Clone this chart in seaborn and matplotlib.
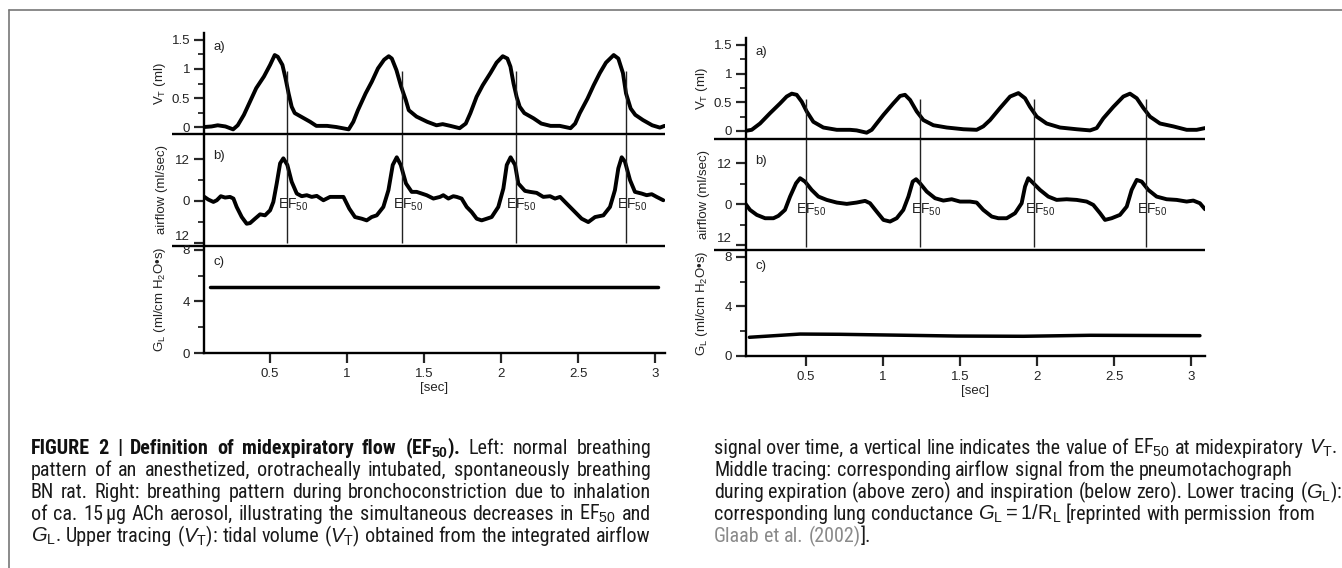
import os
import matplotlib
matplotlib.use("Agg")
import matplotlib.pyplot as plt
import seaborn as sns
from matplotlib.ticker import FixedLocator, FuncFormatter
from matplotlib.lines import Line2D
from matplotlib import font_manager

# ---------------- data ----------------
# left panel: normal breathing
left_vt_t = [0.07, 0.12, 0.16, 0.21, 0.26, 0.29, 0.33, 0.37, 0.41, 0.46, 0.50, 0.53, 0.55, 0.58, 0.60, 0.62,
             0.64, 0.66, 0.72, 0.76, 0.80, 0.87, 0.93, 1.01,
             1.04, 1.07, 1.12, 1.16, 1.20, 1.24, 1.27, 1.29, 1.32, 1.35, 1.38, 1.40, 1.45, 1.52, 1.58, 1.62,
             1.67, 1.73,
             1.77, 1.80, 1.84, 1.88, 1.93, 1.97, 2.01, 2.04, 2.06, 2.08, 2.10, 2.12, 2.15, 2.21, 2.26, 2.32,
             2.38, 2.45,
             2.48, 2.51, 2.56, 2.60, 2.64, 2.68, 2.73, 2.76, 2.79, 2.81, 2.84, 2.87, 2.92, 2.98, 3.03, 3.06]
left_vt = [0.00, 0.01, 0.03, 0.01, -0.04, 0.03, 0.21, 0.44, 0.67, 0.87, 1.07, 1.24, 1.21, 1.07, 0.84, 0.58,
           0.35, 0.24, 0.15, 0.09, 0.02, 0.02, 0.00, -0.04,
           0.09, 0.29, 0.58, 0.78, 1.01, 1.16, 1.22, 1.18, 0.98, 0.70, 0.47, 0.29, 0.18, 0.09, 0.03, 0.05,
           0.02, -0.02,
           0.06, 0.24, 0.52, 0.72, 0.93, 1.11, 1.22, 1.18, 1.04, 0.75, 0.52, 0.35, 0.24, 0.15, 0.06, 0.02,
           0.02, -0.02,
           0.06, 0.24, 0.49, 0.72, 0.93, 1.11, 1.24, 1.18, 0.93, 0.58, 0.32, 0.21, 0.12, 0.03, -0.01, 0.02]

left_flow_t = [0.067, 0.099, 0.132, 0.154, 0.180, 0.208, 0.240, 0.262, 0.283, 0.316, 0.348, 0.370, 0.402,
               0.435, 0.467, 0.500, 0.521, 0.543, 0.565, 0.586, 0.612, 0.640, 0.673, 0.705, 0.738, 0.770,
               0.803, 0.846, 0.889, 0.932, 0.976, 1.014, 1.051, 1.095, 1.127, 1.159, 1.192, 1.235, 1.268,
               1.296, 1.322, 1.348, 1.382, 1.419, 1.451, 1.484, 1.516, 1.560, 1.603, 1.624, 1.657, 1.689,
               1.711, 1.743, 1.776, 1.808, 1.841, 1.873, 1.906, 1.938, 1.981, 2.014, 2.036, 2.061, 2.090,
               2.111, 2.154, 2.187, 2.230, 2.273, 2.317, 2.349, 2.382, 2.414, 2.468, 2.522, 2.565, 2.609,
               2.663, 2.706, 2.738, 2.760, 2.782, 2.803, 2.836, 2.868, 2.911, 2.944, 2.977, 3.009, 3.052]
left_flow = [1.36, 0.39, -0.29, 0.19, 1.36, 0.97, 1.16, 0.68, -1.74, -4.65, -6.58, -6.39, -5.13,
             -3.87, -4.16, -2.71, -0.29, 5.03, 10.84, 12.29, 10.36, 5.52, 2.13, 1.36, 1.65, 1.16,
             1.45, 0.19, 1.16, 1.16, 1.16, -2.23, -4.65, -5.13, -5.61, -4.65, -4.16, -1.74, 3.10,
             10.36, 12.58, 10.36, 5.03, 2.61, 2.61, 2.13, 1.65, 0.68, 1.16, 1.65, 0.68, 1.36,
             1.16, 0.68, -1.74, -3.19, -5.13, -5.61, -5.13, -4.65, -1.74, 3.58, 10.36, 12.58, 10.36,
             5.03, 2.90, 2.61, 2.32, 1.16, 1.36, 0.68, 1.16, -0.29, -2.71, -5.13, -6.10, -4.65,
             -4.16, -1.74, 3.10, 9.39, 12.58, 11.33, 6.00, 2.61, 2.13, 1.65, 1.94, 1.16, 0.19]

left_gl_t = [0.11, 3.02]
left_gl = [5.15, 5.15]

left_ef_t = [0.612, 1.358, 2.094, 2.810]

# right panel: bronchoconstriction
right_vt_t = [0.104, 0.147, 0.201, 0.266, 0.331, 0.374, 0.407, 0.439, 0.472, 0.504, 0.547, 0.612, 0.699,
              0.785, 0.828, 0.893, 0.926, 0.958, 1.002, 1.066, 1.110, 1.142, 1.175, 1.218, 1.261, 1.326,
              1.413, 1.521, 1.607, 1.650, 1.694, 1.759, 1.824, 1.878, 1.921, 1.953, 1.997, 2.061, 2.148,
              2.256, 2.343, 2.386, 2.429, 2.494, 2.559, 2.602, 2.646, 2.689, 2.732, 2.797, 2.883, 2.970,
              3.035, 3.089]
right_vt = [0.00, 0.02, 0.13, 0.31, 0.48, 0.60, 0.65, 0.63, 0.51, 0.34, 0.16, 0.06, 0.02,
            0.02, 0.01, -0.03, 0.02, 0.13, 0.28, 0.48, 0.61, 0.63, 0.54, 0.34, 0.19, 0.10,
            0.06, 0.03, 0.02, 0.08, 0.19, 0.40, 0.60, 0.66, 0.57, 0.42, 0.25, 0.13, 0.06,
            0.03, 0.01, 0.05, 0.22, 0.42, 0.60, 0.65, 0.57, 0.40, 0.25, 0.13, 0.08, 0.02,
            0.02, 0.05]

right_flow_t = [0.104, 0.136, 0.180, 0.234, 0.288, 0.320, 0.363, 0.396, 0.435, 0.461, 0.493, 0.536, 0.580,
                0.634, 0.699, 0.764, 0.828, 0.883, 0.915, 0.958, 1.002, 1.045, 1.088, 1.131, 1.164, 1.192,
                1.214, 1.239, 1.283, 1.337, 1.391, 1.445, 1.499, 1.564, 1.607, 1.650, 1.705, 1.748, 1.802,
                1.856, 1.899, 1.921, 1.942, 1.975, 2.018, 2.072, 2.126, 2.191, 2.256, 2.321, 2.364, 2.408,
                2.440, 2.483, 2.537, 2.581, 2.613, 2.646, 2.678, 2.721, 2.775, 2.840, 2.905, 2.970, 3.013,
                3.056, 3.089]
right_flow = [0.29, -1.66, -3.12, -4.10, -4.10, -3.41, -1.66, 2.24, 6.15, 7.61, 6.63, 4.20, 2.24,
              1.27, 0.49, 0.10, 0.49, 0.98, 0.29, -2.15, -4.59, -5.07, -4.10, -1.66, 2.24, 6.63,
              7.32, 6.15, 3.71, 1.76, 1.07, 1.46, 0.78, 0.78, 0.49, -1.66, -3.61, -4.10, -4.10,
              -2.63, 0.29, 5.17, 7.61, 6.15, 4.20, 2.24, 1.27, 1.46, 1.27, 0.78, -0.20, -2.63,
              -4.59, -4.10, -3.12, -0.68, 4.20, 7.12, 6.63, 4.20, 2.24, 1.46, 1.27, 0.78, 1.07,
              0.29, -1.46]

right_gl_t = [0.132, 0.461, 0.720, 1.045, 1.477, 1.910, 2.343, 3.056]
right_gl = [1.51, 1.77, 1.75, 1.69, 1.61, 1.59, 1.67, 1.64]

right_ef_t = [0.498, 1.239, 1.979, 2.706]

x_ticks = [0.5, 1, 1.5, 2, 2.5, 3]
vt_ticks, vt_minor = [0, 0.5, 1, 1.5], [0.25, 0.75, 1.25]
flow_ticks, flow_minor = [-12, 0, 12], [-6, 6]
gl_ticks, gl_minor = [0, 4, 8], [2, 6]

caption_left = [
    [("FIGURE 2 | Definition of midexpiratory flow (EF$_{\\mathbf{50}}$).", "bold"),
     (" Left: normal breathing", "normal")],
    [("pattern of an anesthetized, orotracheally intubated, spontaneously breathing", "normal")],
    [("BN rat. Right: breathing pattern during bronchoconstriction due to inhalation", "normal")],
    [("of ca. 15$\\,$\u00b5g ACh aerosol, illustrating the simultaneous decreases in EF$_{50}$ and", "normal")],
    [("$G_{\\mathrm{L}}$. Upper tracing ($V_{\\mathrm{T}}$): tidal volume ($V_{\\mathrm{T}}$) obtained "
      "from the integrated airflow", "normal")],
]
caption_right = [
    [("signal over time, a vertical line indicates the value of EF$_{50}$ at midexpiratory "
      "$V_{\\mathrm{T}}$.", "normal")],
    [("Middle tracing: corresponding airflow signal from the pneumotachograph", "normal")],
    [("during expiration (above zero) and inspiration (below zero). Lower tracing ($G_{\\mathrm{L}}$):",
      "normal")],
    [("corresponding lung conductance $G_{\\mathrm{L}}=1/\\mathrm{R}_{\\mathrm{L}}$ [reprinted with "
      "permission from", "normal")],
    [("Glaab et al. (2002)", "link"), ("].", "normal")],
]

# ---------------- style ----------------
sns.set_theme(style="ticks")
plt.rcParams["font.family"] = ["Liberation Sans", "DejaVu Sans"]
plt.rcParams.update({
    "mathtext.fontset": "custom",
    "mathtext.rm": "Liberation Sans",
    "mathtext.it": "Liberation Sans:italic",
    "mathtext.bf": "Liberation Sans:bold",
    "axes.edgecolor": "black",
    "text.color": "#1a1a1a",
})

W, H = 1342, 568
fig = plt.figure(figsize=(W / 100, H / 100), dpi=100)
fig.patch.set_facecolor("white")
TXT = "#222222"


def px_axes(x0, y0, x1, y1):
    return fig.add_axes([x0 / W, 1 - y1 / H, (x1 - x0) / W, (y1 - y0) / H])


def style_y(ax, major, minor, fmt):
    ax.yaxis.set_major_locator(FixedLocator(major))
    ax.yaxis.set_minor_locator(FixedLocator(minor))
    ax.yaxis.set_major_formatter(FuncFormatter(fmt))
    ax.tick_params(axis="y", which="major", direction="out", length=7, width=1.6,
                   labelsize=9.5, pad=3, labelcolor=TXT)
    ax.tick_params(axis="y", which="minor", direction="out", length=4, width=1.3)
    ax.spines["left"].set_linewidth(1.7)
    for s in ("top", "right"):
        ax.spines[s].set_visible(False)
    ax.set_facecolor("none")


def draw_panel(lay, vt_t, vt, fl_t, fl, gl_t, gl, ef_t, ef_top, ef_bot, ef_lab):
    x0, x1 = lay["x"]
    ya, yb, yc, yd = lay["y"]
    ax_a = px_axes(x0, ya, x1, yb)
    ax_b = px_axes(x0, yb, x1, yc)
    ax_c = px_axes(x0, yc, x1, yd)
    for ax, yl in zip((ax_a, ax_b, ax_c), lay["ylims"]):
        ax.set_xlim(*lay["xlim"])
        ax.set_ylim(*yl)

    sns.lineplot(x=vt_t, y=vt, ax=ax_a, color="black", linewidth=2.8, sort=False, estimator=None)
    sns.lineplot(x=fl_t, y=fl, ax=ax_b, color="black", linewidth=2.8, sort=False, estimator=None)
    sns.lineplot(x=gl_t, y=gl, ax=ax_c, color="black", linewidth=2.5, sort=False, estimator=None)

    style_y(ax_a, vt_ticks, vt_minor, lambda v, _: f"{v:g}")
    style_y(ax_b, flow_ticks, flow_minor, lambda v, _: f"{abs(v):g}")
    style_y(ax_c, gl_ticks, gl_minor, lambda v, _: f"{v:g}")
    # the lowest airflow label sits just above its tick, clear of the "8" below
    ax_b.yaxis.get_major_ticks()[0].label1.set_verticalalignment("bottom")

    for ax in (ax_a, ax_b):
        ax.spines["bottom"].set_visible(False)
        ax.tick_params(axis="x", bottom=False, labelbottom=False)
        ax.set_xlabel("")
        ax.plot([-0.07, 1], [0, 0], transform=ax.transAxes, color="black", lw=1.7,
                clip_on=False, solid_capstyle="butt", zorder=5)

    ax_c.spines["bottom"].set_linewidth(1.7)
    ax_c.xaxis.set_major_locator(FixedLocator(x_ticks))
    ax_c.xaxis.set_major_formatter(FuncFormatter(lambda v, _: f"{v:g}"))
    ax_c.tick_params(axis="x", direction="out", length=7, width=1.6, labelsize=9.5, pad=4,
                     labelcolor=TXT)
    ax_c.set_xlabel("[sec]", fontsize=9.5, labelpad=1.5, color=TXT)

    ax_a.set_ylabel("V$_{\\mathrm{T}}$ (ml)", fontsize=9.5, color=TXT)
    ax_b.set_ylabel("airflow (ml/sec)", fontsize=9.5, color=TXT)
    ax_c.set_ylabel("G$_{\\mathrm{L}}$ (ml/cm H$_{2}$O\u2022s)", fontsize=9.5, color=TXT)
    for ax in (ax_a, ax_b, ax_c):
        ax.yaxis.set_label_coords(-0.078, 0.5)

    for ax, lab, yy in zip((ax_a, ax_b, ax_c), ("a)", "b)", "c)"), (0.86, 0.8, 0.85)):
        ax.text(0.02, yy, lab, transform=ax.transAxes, fontsize=9.5, va="center", color=TXT)

    ax_a.vlines(ef_t, ax_a.get_ylim()[0], ef_top, color=TXT, lw=1.0)
    ax_b.vlines(ef_t, ef_bot, ax_b.get_ylim()[1], color=TXT, lw=1.0)
    for t in ef_t:
        ax_b.annotate("EF$_{50}$", xy=(t, ef_lab), xytext=(-6.7, 0), textcoords="offset points",
                      ha="left", va="baseline", fontsize=10, color=TXT)


left_layout = {"x": (204, 665), "y": (33, 134, 246, 353), "xlim": (0.071, 3.063),
               "ylims": [(-0.12, 1.62), (-13.0, 19.3), (0, 8.3)]}
right_layout = {"x": (746, 1205), "y": (38, 139, 250, 356), "xlim": (0.110, 3.089),
                "ylims": [(-0.14, 1.62), (-13.4, 19.1), (0, 8.55)]}

draw_panel(left_layout, left_vt_t, left_vt, left_flow_t, left_flow, left_gl_t, left_gl,
           left_ef_t, 0.96, -12.1, -2.3)
draw_panel(right_layout, right_vt_t, right_vt, right_flow_t, right_flow, right_gl_t, right_gl,
           right_ef_t, 0.55, -12.5, -2.6)

# frame lines (open on the right and bottom, as cropped in the source)
fig.add_artist(Line2D([9 / W, 1], [1 - 10 / H, 1 - 10 / H], color="#777777", lw=1.2))
fig.add_artist(Line2D([9 / W, 9 / W], [0, 1 - 10 / H], color="#777777", lw=1.2))


# ---------------- caption ----------------
def pick_caption_font():
    # a condensed sans is closest to the journal caption face; fall back to Liberation Sans
    entries = font_manager.fontManager.ttflist
    for e in entries:
        if e.name == "Liberation Sans Narrow":
            return {"family": [e.name]}
    for fam in ("Roboto Condensed", "Roboto", "Open Sans", "Noto Sans", "Liberation Sans"):
        for e in entries:
            fn = os.path.basename(e.fname).lower()
            if e.name == fam and e.stretch == "condensed" and "semi" not in fn:
                return {"family": [fam], "stretch": "condensed"}
    return {"family": ["Liberation Sans"]}


cap_font = pick_caption_font()
styles = {
    "bold": dict(cap_font, fontweight="bold", color="#111111"),
    "normal": dict(cap_font, color="#1a1a1a"),
    "link": dict(cap_font, color="#8a8a8a"),
}
renderer = fig.canvas.get_renderer()


def text_w(s, fs, style):
    t = fig.text(0, 0, s, fontsize=fs, **styles[style])
    w = t.get_window_extent(renderer=renderer).width
    t.remove()
    return w


def split_words(runs):
    words = [[]]
    for text, style in runs:
        for i, part in enumerate(text.split(" ")):
            if i > 0:
                words.append([])
            if part:
                words[-1].append((part, style))
    return [w for w in words if w]


def space_w(fs):
    return text_w("x x", fs, "normal") - text_w("xx", fs, "normal")


def natural_width(runs, fs, gap_factor=1.0):
    words = split_words(runs)
    total = sum(text_w(s, fs, st) for w in words for s, st in w)
    return total + gap_factor * space_w(fs) * (len(words) - 1)


def draw_line(x0, y_base, runs, fs, width=None):
    words = split_words(runs)
    widths = [[text_w(s, fs, st) for s, st in w] for w in words]
    total = sum(sum(ws) for ws in widths)
    gap = space_w(fs)
    if width is not None and len(words) > 1:
        gap = max(gap * 0.5, (width - total) / (len(words) - 1))
    x = x0
    for w, ws in zip(words, widths):
        for (s, st), sw in zip(w, ws):
            fig.text(x / W, 1 - y_base / H, s, fontsize=fs, ha="left", va="baseline", **styles[st])
            x += sw
        x += gap


COL_W = 620
base_fs = 10.0
cap_fs = base_fs * COL_W / max(natural_width(r, base_fs) for r in caption_left[1:])
line_fs = []
for runs in caption_left:
    fs = cap_fs
    squeezed = natural_width(runs, fs, gap_factor=0.5)
    if squeezed > COL_W:
        fs = fs * COL_W / squeezed
    line_fs.append(fs)

baselines = [454 + 22 * i for i in range(5)]
for runs, yb, fs in zip(caption_left, baselines, line_fs):
    draw_line(31, yb, runs, fs, width=COL_W)
for runs, yb in zip(caption_right, baselines):
    draw_line(714, yb, runs, cap_fs)

fig.savefig("out.png", dpi=100)
